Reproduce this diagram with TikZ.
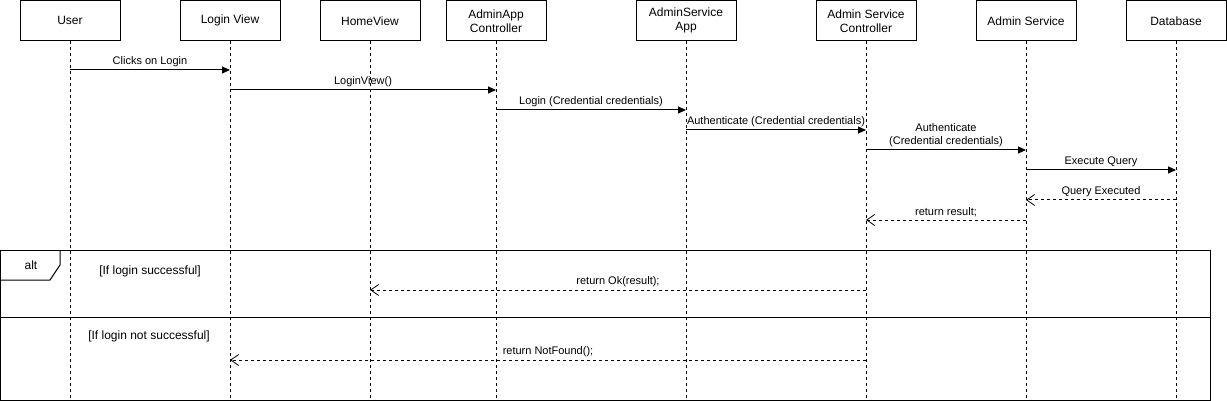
\documentclass[tikz,border=0pt]{standalone}
\usepackage{fontspec}
\setmainfont{Liberation Sans}
\usetikzlibrary{arrows.meta}
\begin{document}
\begin{tikzpicture}[x=1pt,y=-1pt,
  head/.style={draw, line width=1pt, minimum width=100pt, minimum height=39.5pt, inner sep=0pt, align=center, font=\fontsize{12}{14}\selectfont, anchor=north},
  life/.style={line width=1pt, dash pattern=on 3pt off 3pt},
  call/.style={line width=1pt, -{Triangle[length=8pt,width=7pt]}},
  ret/.style={line width=1pt, dash pattern=on 3pt off 3pt, -{Straight Barb[length=8pt,width=11pt,line width=0.8pt]}},
  lbl/.style={font=\fontsize{11}{13}\selectfont, inner sep=0pt, align=center},
  guard/.style={font=\fontsize{12}{14}\selectfont, inner sep=0pt},
  frame/.style={line width=1pt}
]
\useasboundingbox (0,0) rectangle (1227,401);

% heads
\node[head] (user) at (70,0.5)   {User};
\node[head] (login) at (230,0.5) {Login View};
\node[head] (home) at (370,0.5)  {HomeView};
\node[head] (aac) at (496,0.5)   {AdminApp\\Controller};
\node[head] (asa) at (686,0.5)   {AdminService\\App};
\node[head] (asc) at (866,0.5)   {Admin Service\\Controller};
\node[head] (asvc) at (1026,0.5) {Admin Service};
\node[head] (db) at (1176,0.5)   {Database};

% lifelines
\foreach \n in {user,login,home,aac,asa,asc,asvc,db}
  \draw[life] (\n.south) -- (\n.south |- 0,401);

% messages
\draw[call] (user |- 0,70) -- node[lbl, above=2.5pt] (m1) {Clicks on Login} (login |- 0,70);
\draw[call] (login |- 0,90) -- node[lbl, above=2.5pt] (m2) {LoginView()} (aac |- 0,90);
\draw[call] (aac |- 0,110) -- node[lbl, above=2.5pt] (m3) {Login (Credential credentials)} (asa |- 0,110);
\draw[call] (asa |- 0,130) -- node[lbl, above=2.5pt] (m4) {Authenticate (Credential credentials)} (asc |- 0,130);
\draw[call] (asc |- 0,150) -- node[lbl, above=2.5pt] (m5) {Authenticate\\(Credential credentials)} (asvc |- 0,150);
\draw[call] (asvc |- 0,170) -- node[lbl, above=2.5pt] (m6) {Execute Query} (db |- 0,170);
\draw[ret] (db |- 0,200) -- node[lbl, above=2.5pt] (m7) {Query Executed} (asvc |- 0,200);
\draw[ret] (asvc |- 0,220) -- node[lbl, above=2.5pt] (m8) {return result;} (asc |- 0,220);

% alt frame
\draw[frame] (0.5,250) rectangle (1210,400);
\draw[frame] (0.5,280) -- (50,280) -- (60,265) -- (60,250);
\node[guard] (alt) at (31,265) {alt};
\draw[frame] (0.5,317) -- (1210,317);
\node[guard] (g1) at (150,271) {[If login successful]};
\node[guard] (g2) at (149,336) {[If login not successful]};

\draw[ret] (asc |- 0,290) -- node[lbl, above=2.5pt] (m9) {return Ok(result);} (home |- 0,290);
\draw[ret] (asc |- 0,360) -- node[lbl, above=2.5pt] (m10) {return NotFound();} (login |- 0,360);
\end{tikzpicture}
\end{document}
